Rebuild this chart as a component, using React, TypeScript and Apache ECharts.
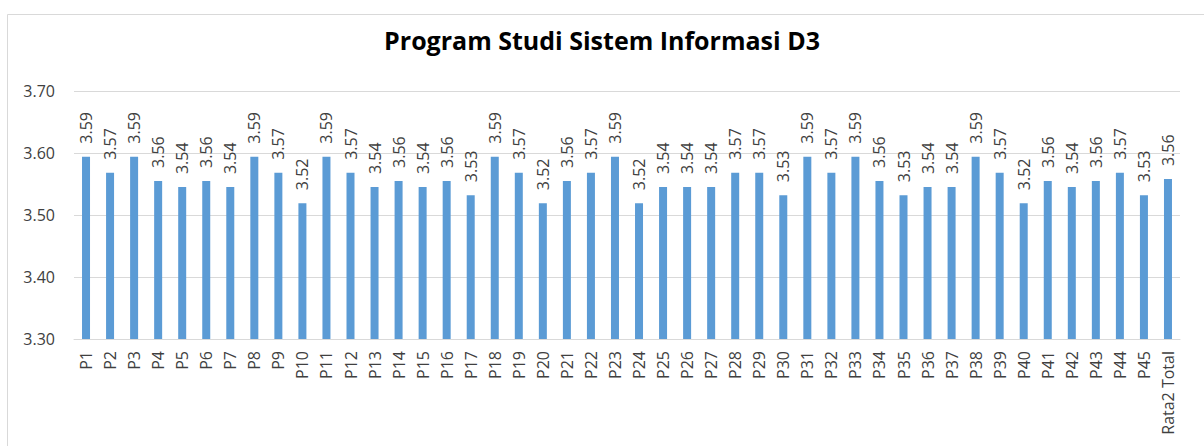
import React, { useEffect, useRef } from "react";
import * as echarts from "echarts";

const categories = [
  "P1","P2","P3","P4","P5","P6","P7","P8","P9","P10",
  "P11","P12","P13","P14","P15","P16","P17","P18","P19","P20",
  "P21","P22","P23","P24","P25","P26","P27","P28","P29","P30",
  "P31","P32","P33","P34","P35","P36","P37","P38","P39","P40",
  "P41","P42","P43","P44","P45","Rata2 Total",
];

const values = [
  3.594, 3.568, 3.594, 3.555, 3.545, 3.555, 3.545, 3.594, 3.568, 3.519,
  3.594, 3.568, 3.545, 3.555, 3.545, 3.555, 3.532, 3.594, 3.568, 3.519,
  3.555, 3.568, 3.594, 3.519, 3.545, 3.545, 3.545, 3.568, 3.568, 3.532,
  3.594, 3.568, 3.594, 3.555, 3.532, 3.545, 3.545, 3.594, 3.568, 3.519,
  3.555, 3.545, 3.555, 3.568, 3.532, 3.558,
];

const title = "Program Studi Sistem Informasi D3";

export default function App() {
  const ref = useRef<HTMLDivElement>(null);
  useEffect(() => {
    document.body.style.margin = "0";
    const chart = echarts.init(ref.current!, null, { renderer: "svg" });
    const font = "'Open Sans', sans-serif";
    chart.setOption({
      animation: false,
      backgroundColor: "#ffffff",
      textStyle: { fontFamily: font },
      title: {
        text: title,
        left: "center",
        top: 22,
        textStyle: { fontFamily: font, fontSize: 25, fontWeight: "bold", color: "#000000" },
      },
      graphic: [
        {
          type: "rect",
          shape: { x: 7.5, y: 14.5, width: 1210, height: 460 },
          style: { fill: "none", stroke: "#d9d9d9", lineWidth: 1 },
          silent: true,
        },
      ],
      grid: { left: 74, right: 24, top: 91, bottom: 107 },
      xAxis: {
        type: "category",
        data: categories,
        axisLine: { show: true, lineStyle: { color: "#d9d9d9", width: 1 } },
        axisTick: { show: false },
        axisLabel: {
          interval: 0,
          rotate: 90,
          fontSize: 16,
          color: "#404040",
          fontFamily: font,
          margin: 12,
        },
      },
      yAxis: {
        type: "value",
        min: 3.3,
        max: 3.7,
        interval: 0.1,
        axisLine: { show: false },
        axisTick: { show: false },
        splitLine: { lineStyle: { color: "#d9d9d9", width: 1 } },
        axisLabel: {
          fontSize: 16,
          color: "#404040",
          fontFamily: font,
          margin: 19,
          formatter: (v: number) => v.toFixed(2),
        },
      },
      series: [
        {
          type: "bar",
          data: values,
          barWidth: 8,
          itemStyle: { color: "#5b9bd5" },
          label: {
            show: true,
            position: "top",
            rotate: 90,
            align: "left",
            verticalAlign: "middle",
            distance: 13,
            fontSize: 16,
            color: "#404040",
            fontFamily: font,
            formatter: (p: any) => Number(p.value).toFixed(2),
          },
        },
      ],
    });
    return () => chart.dispose();
  }, []);
  return <div ref={ref} style={{ width: 1204, height: 446 }} />;
}
